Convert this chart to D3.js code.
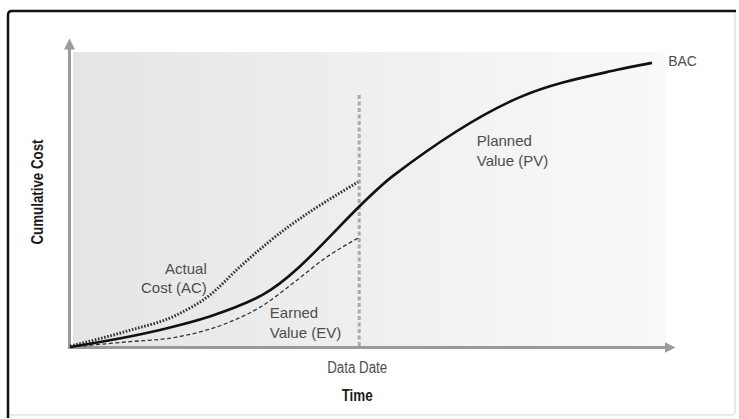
<!DOCTYPE html>
<html lang="en">
  <head>
    <meta charset="UTF-8" />
    <title>Cumulative Cost</title>
    <script src="https://cdn.jsdelivr.net/npm/d3@7"></script>
  </head>
  <body>
    <svg></svg>
    <style>
      body {
        margin: 0;
        background: #fff;
      }
      svg {
        width: 739px;
        height: 419px;
        display: block;
      }
      .lbl {
        font-family: "Liberation Sans", Arial, sans-serif;
        font-size: 15px;
        fill: #4d4d4d;
      }
      .nar {
        font-family: "Liberation Sans", Arial, sans-serif;
        font-size: 16px;
      }
    </style>
    <script>
      // time / cost (0..100 units)
      const pvTime = [0, 15, 23, 32, 54, 75, 91, 97];
      const pvCost = [0, 5.7, 10, 17.3, 57.3, 83.3, 92.3, 94.7];
      const acTime = [0, 9.5, 17.8, 23.3, 28.3, 33.3, 48];
      const acCost = [0.3, 5.3, 10.7, 17.3, 26.7, 35.3, 55];
      const evTime = [0, 9.5, 17.8, 26.2, 31.7, 37.2, 42.8, 48];
      const evCost = [0, 1.7, 3.3, 8, 13.3, 21.3, 30, 36.3];
      const dataDate = 48.2;

      const svg = d3.select("svg");
      const x = d3.scaleLinear().domain([0, 100]).range([70, 670]);
      const y = d3.scaleLinear().domain([0, 100]).range([347, 47]);

      // frame
      svg.append("rect")
        .attr("x", 8).attr("y", 11).attr("width", 727).attr("height", 404)
        .attr("rx", 4)
        .attr("fill", "none").attr("stroke", "#e2e2e2").attr("stroke-width", 1.5);
      svg.append("path")
        .attr("d", "M8,418 V15 Q8,11 12,11 H736")
        .attr("fill", "none").attr("stroke", "#111").attr("stroke-width", 2.5);

      const defs = svg.append("defs");
      const grad = defs.append("linearGradient").attr("id", "bg");
      grad.append("stop").attr("offset", "0%").attr("stop-color", "#e5e5e5");
      grad.append("stop").attr("offset", "100%").attr("stop-color", "#f9f9f9");
      defs.append("marker")
        .attr("id", "arr")
        .attr("markerUnits", "userSpaceOnUse")
        .attr("viewBox", "0 -6 12 12")
        .attr("refX", 2).attr("refY", 0)
        .attr("markerWidth", 12).attr("markerHeight", 12)
        .attr("orient", "auto")
        .append("path")
        .attr("d", "M0,-5.5L11,0L0,5.5Z")
        .attr("fill", "#9a9a9a");

      // shaded plot area
      svg.append("rect")
        .attr("x", x(0.5)).attr("y", y(98.3))
        .attr("width", x(99.2) - x(0.5)).attr("height", y(0) - y(98.3))
        .attr("fill", "url(#bg)");

      // axes (no ticks, arrow ends)
      const xa = svg.append("g").attr("transform", `translate(0,${y(0)})`)
        .call(d3.axisBottom(d3.scaleLinear().range([x(0) - 1.5, 666])).tickValues([]).tickSizeOuter(0));
      const ya = svg.append("g").attr("transform", `translate(${x(0) - 1},0)`)
        .call(d3.axisLeft(d3.scaleLinear().range([y(0) + 1.5, 47])).tickValues([]).tickSizeOuter(0));
      [xa, ya].forEach(a => a.select(".domain")
        .attr("stroke", "#9a9a9a").attr("stroke-width", 3)
        .attr("marker-end", "url(#arr)"));

      // data date
      svg.append("line")
        .attr("x1", x(dataDate)).attr("x2", x(dataDate))
        .attr("y1", y(84)).attr("y2", y(0))
        .attr("stroke", "#a8a8a8").attr("stroke-width", 3)
        .attr("stroke-dasharray", "4 2.5");

      const line = d3.line().x(d => x(d[0])).y(d => y(d[1])).curve(d3.curveMonotoneX);

      svg.append("path")
        .datum(evTime.map((t, i) => [t, evCost[i]]))
        .attr("d", line)
        .attr("fill", "none").attr("stroke", "#333").attr("stroke-width", 1.3)
        .attr("stroke-dasharray", "4 2.5");

      svg.append("path")
        .datum(acTime.map((t, i) => [t, acCost[i]]))
        .attr("d", line)
        .attr("fill", "none").attr("stroke", "#333").attr("stroke-width", 2.9)
        .attr("stroke-dasharray", "1.6 1.6");

      svg.append("path")
        .datum(pvTime.map((t, i) => [t, pvCost[i]]))
        .attr("d", line)
        .attr("fill", "none").attr("stroke", "#111").attr("stroke-width", 2.6);

      // labels
      const label = (txt, t, c, anchor) =>
        svg.append("text").attr("class", "lbl")
          .attr("x", x(t)).attr("y", y(c))
          .attr("text-anchor", anchor).text(txt);

      label("Actual", 22.8, 24.3, "end");
      label("Cost (AC)", 22.8, 18, "end");
      label("Earned", 33.3, 9.7, "start");
      label("Value (EV)", 33.3, 3, "start");
      label("Planned", 67.8, 67, "start");
      label("Value (PV)", 67.8, 60.3, "start");
      label("BAC", 99.7, 93.7, "start").style("font-size", "14px");

      // condensed look: squeeze the regular face with textLength
      svg.append("text").attr("class", "nar")
        .attr("x", x(dataDate) - 2).attr("y", y(0) + 26)
        .attr("text-anchor", "middle").attr("fill", "#4d4d4d")
        .attr("textLength", 60).attr("lengthAdjust", "spacingAndGlyphs")
        .text("Data Date");

      svg.append("text").attr("class", "nar")
        .attr("x", x(dataDate) - 2).attr("y", y(0) + 54)
        .attr("text-anchor", "middle").attr("fill", "#1a1a1a")
        .attr("font-weight", "bold")
        .attr("textLength", 31).attr("lengthAdjust", "spacingAndGlyphs")
        .text("Time");

      svg.append("text").attr("class", "nar")
        .attr("transform", `translate(43,${(y(0) + y(100)) / 2 - 5}) rotate(-90)`)
        .attr("text-anchor", "middle").attr("fill", "#1a1a1a")
        .attr("font-weight", "bold")
        .attr("textLength", 105).attr("lengthAdjust", "spacingAndGlyphs")
        .text("Cumulative Cost");
    </script>
  </body>
</html>
